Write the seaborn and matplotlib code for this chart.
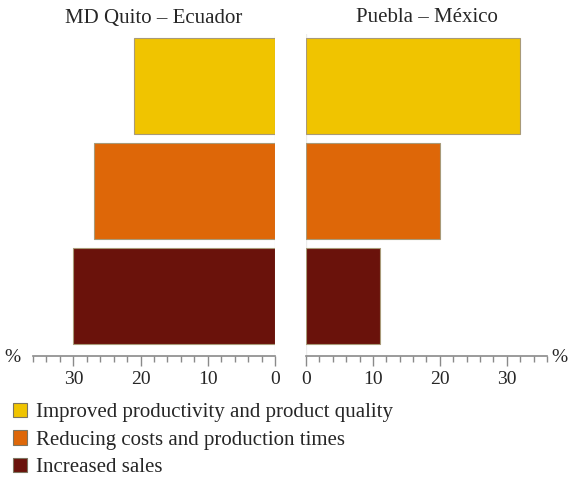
import matplotlib
matplotlib.use("Agg")
import matplotlib.pyplot as plt
from matplotlib.patches import Patch
from matplotlib.ticker import MultipleLocator
import seaborn as sns
import pandas as pd

categories = [
    "Improved productivity and product quality",
    "Reducing costs and production times",
    "Increased sales",
]
quito_values = [21, 27, 30]
puebla_values = [32, 20, 11]
panel_titles = ["MD Quito – Ecuador", "Puebla – México"]
bar_colors = ["#F0C400", "#DE6708", "#6A120B"]
major_ticks = [0, 10, 20, 30]

sns.set_theme(style="white")
plt.rcParams["font.family"] = ["Liberation Serif", "DejaVu Serif"]

fig = plt.figure(figsize=(5.68, 4.78), dpi=100)
W, H = 568, 478
axis_y = 356
top_y = 33.5
bottom = 1 - axis_y / H
height = (axis_y - top_y) / H
ax_left = fig.add_axes([33 / W, bottom, (275 - 33) / W, height])
ax_right = fig.add_axes([306 / W, bottom, (547 - 306) / W, height])

palette = dict(zip(categories, bar_colors))
panels = [(ax_left, quito_values, (36, 0)), (ax_right, puebla_values, (0, 36))]

for (ax, vals, xlim), title in zip(panels, panel_titles):
    df = pd.DataFrame({"category": categories, "value": vals})
    sns.barplot(data=df, x="value", y="category", hue="category",
                palette=palette, order=categories, hue_order=categories,
                orient="h", width=0.91, saturation=1,
                edgecolor="#a89a78", linewidth=0.8,
                legend=False, ax=ax)
    ax.axvline(0, color="#ececec", lw=1, zorder=0)
    ax.set_xlim(*xlim)
    ax.set_ylim(2.571, -0.5)
    ax.set_xlabel("")
    ax.set_ylabel("")
    ax.set_yticks([])
    ax.set_xticks(major_ticks)
    ax.xaxis.set_minor_locator(MultipleLocator(2))
    ax.tick_params(axis="x", which="major", direction="out", length=7,
                   width=1, color="#8a8a8a", labelsize=14, pad=4,
                   bottom=True)
    ax.tick_params(axis="x", which="minor", direction="out", length=4,
                   width=1, color="#8a8a8a", bottom=True)
    for side in ["top", "right", "left"]:
        ax.spines[side].set_visible(False)
    ax.spines["bottom"].set_color("#8a8a8a")
    ax.spines["bottom"].set_linewidth(1.2)
    ax.set_facecolor("none")

# Panel headings, centred over each panel
fig.text(154 / W, 1 - 18 / H, panel_titles[0], fontsize=15,
         ha="center", va="center")
fig.text(426.5 / W, 1 - 18 / H, panel_titles[1], fontsize=15,
         ha="center", va="center")

fig.text(12 / W, 1 - 357 / H, "%", fontsize=14, ha="center", va="center")
fig.text(567 / W, 1 - 357 / H, "%", fontsize=14, ha="right", va="center")

handles = [Patch(facecolor=c, edgecolor="#7d7560", linewidth=0.8)
           for c in bar_colors]
fig.legend(handles, categories, loc="upper left",
           bbox_to_anchor=(0.0, 1 - 390 / H), frameon=False, fontsize=15,
           handlelength=0.7, handleheight=0.7, handletextpad=0.45,
           labelspacing=0.38, borderaxespad=0.2)

fig.savefig("out.png", dpi=100)
